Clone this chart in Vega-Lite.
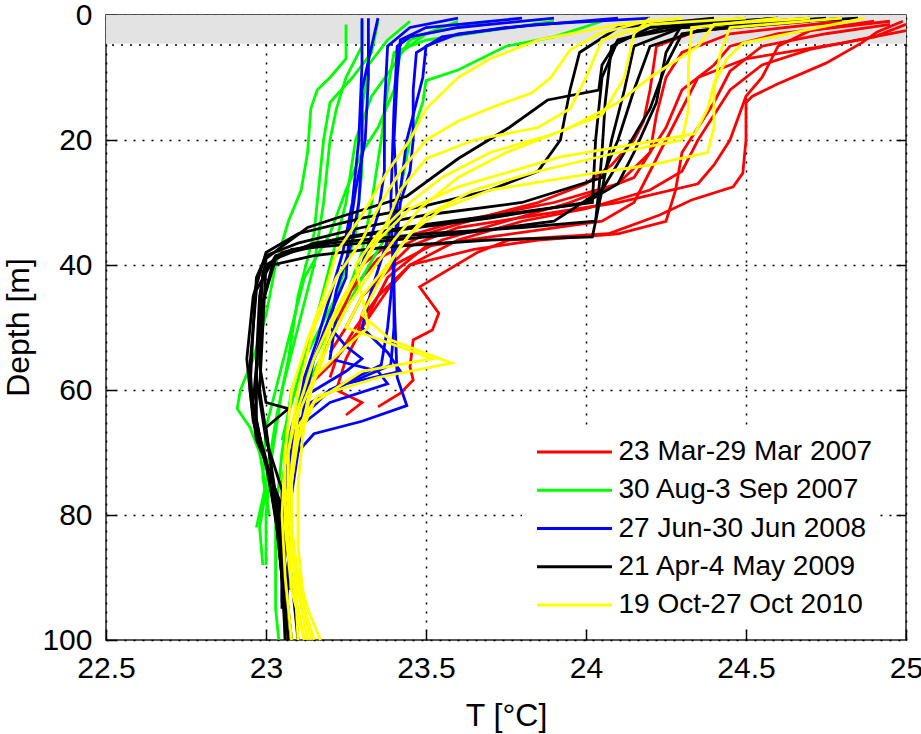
{
  "$schema": "https://vega.github.io/schema/vega-lite/v6.json",
  "width": 800,
  "height": 625,
  "autosize": {"type": "none"},
  "padding": {"left": 106, "top": 15, "right": 15, "bottom": 94},
  "background": "white",
  "config": {
    "font": "Liberation Sans",
    "view": {"stroke": "#222222", "strokeWidth": 1.5}
  },
  "datasets": {
    "periods": [
      {"c": "R", "period": "23 Mar-29 Mar 2007"},
      {"c": "G", "period": "30 Aug-3 Sep 2007"},
      {"c": "B", "period": "27 Jun-30 Jun 2008"},
      {"c": "K", "period": "21 Apr-4 May 2009"},
      {"c": "Y", "period": "19 Oct-27 Oct 2010"}
    ],
    "profiles": [
      {"p":"R1","c":"R","T":24.99,"d":1},{"p":"R1","c":"R","T":24.91,"d":2.7},{"p":"R1","c":"R","T":24.86,"d":4.5},{"p":"R1","c":"R","T":24.75,"d":7.7},{"p":"R1","c":"R","T":24.6,"d":11},{"p":"R1","c":"R","T":24.52,"d":13},{"p":"R1","c":"R","T":24.5,"d":14},{"p":"R1","c":"R","T":24.5,"d":20},{"p":"R1","c":"R","T":24.49,"d":25.3},{"p":"R1","c":"R","T":24.46,"d":27.5},{"p":"R1","c":"R","T":24.33,"d":29.6},{"p":"R1","c":"R","T":24.23,"d":32},{"p":"R1","c":"R","T":24.07,"d":35},{"p":"R1","c":"R","T":23.76,"d":36},{"p":"R1","c":"R","T":23.66,"d":38},{"p":"R1","c":"R","T":23.48,"d":43.5},{"p":"R1","c":"R","T":23.54,"d":47.7},{"p":"R1","c":"R","T":23.52,"d":50.4},{"p":"R1","c":"R","T":23.46,"d":52},{"p":"R1","c":"R","T":23.45,"d":56.3},{"p":"R1","c":"R","T":23.46,"d":58.4},{"p":"R1","c":"R","T":23.42,"d":60.5},{"p":"R1","c":"R","T":23.35,"d":62.7},
      {"p":"R2","c":"R","T":25.0,"d":1.5},{"p":"R2","c":"R","T":24.9,"d":3.5},{"p":"R2","c":"R","T":24.7,"d":5.5},{"p":"R2","c":"R","T":24.55,"d":8},{"p":"R2","c":"R","T":24.45,"d":12},{"p":"R2","c":"R","T":24.4,"d":16},{"p":"R2","c":"R","T":24.35,"d":20},{"p":"R2","c":"R","T":24.3,"d":25},{"p":"R2","c":"R","T":24.2,"d":28},{"p":"R2","c":"R","T":24.0,"d":31},{"p":"R2","c":"R","T":23.8,"d":33},{"p":"R2","c":"R","T":23.6,"d":36},{"p":"R2","c":"R","T":23.45,"d":40},{"p":"R2","c":"R","T":23.35,"d":45},{"p":"R2","c":"R","T":23.28,"d":50},{"p":"R2","c":"R","T":23.22,"d":55},{"p":"R2","c":"R","T":23.2,"d":58},
      {"p":"R3","c":"R","T":24.95,"d":1},{"p":"R3","c":"R","T":24.6,"d":3},{"p":"R3","c":"R","T":24.45,"d":5},{"p":"R3","c":"R","T":24.4,"d":8},{"p":"R3","c":"R","T":24.3,"d":12},{"p":"R3","c":"R","T":24.25,"d":18},{"p":"R3","c":"R","T":24.2,"d":22},{"p":"R3","c":"R","T":24.15,"d":26},{"p":"R3","c":"R","T":24.05,"d":28},{"p":"R3","c":"R","T":23.95,"d":30},{"p":"R3","c":"R","T":23.75,"d":33},{"p":"R3","c":"R","T":23.55,"d":36},{"p":"R3","c":"R","T":23.4,"d":40},{"p":"R3","c":"R","T":23.3,"d":45},{"p":"R3","c":"R","T":23.25,"d":50},{"p":"R3","c":"R","T":23.2,"d":54},
      {"p":"R4","c":"R","T":24.9,"d":1},{"p":"R4","c":"R","T":24.7,"d":2.5},{"p":"R4","c":"R","T":24.6,"d":5},{"p":"R4","c":"R","T":24.55,"d":10},{"p":"R4","c":"R","T":24.5,"d":13},{"p":"R4","c":"R","T":24.45,"d":20},{"p":"R4","c":"R","T":24.4,"d":24},{"p":"R4","c":"R","T":24.35,"d":27},{"p":"R4","c":"R","T":24.1,"d":30},{"p":"R4","c":"R","T":23.85,"d":32},{"p":"R4","c":"R","T":23.6,"d":34},{"p":"R4","c":"R","T":23.45,"d":37},{"p":"R4","c":"R","T":23.35,"d":42},{"p":"R4","c":"R","T":23.3,"d":48},{"p":"R4","c":"R","T":23.28,"d":52},
      {"p":"R5","c":"R","T":25.0,"d":2.5},{"p":"R5","c":"R","T":24.8,"d":4.5},{"p":"R5","c":"R","T":24.5,"d":7},{"p":"R5","c":"R","T":24.35,"d":10},{"p":"R5","c":"R","T":24.3,"d":15},{"p":"R5","c":"R","T":24.25,"d":20},{"p":"R5","c":"R","T":24.2,"d":25},{"p":"R5","c":"R","T":24.15,"d":30},{"p":"R5","c":"R","T":24.05,"d":33},{"p":"R5","c":"R","T":23.7,"d":35.5},{"p":"R5","c":"R","T":23.5,"d":37},{"p":"R5","c":"R","T":23.38,"d":42},{"p":"R5","c":"R","T":23.32,"d":48},{"p":"R5","c":"R","T":23.25,"d":55},{"p":"R5","c":"R","T":23.22,"d":60},{"p":"R5","c":"R","T":23.3,"d":62},{"p":"R5","c":"R","T":23.25,"d":64},
      {"p":"R6","c":"R","T":24.8,"d":1},{"p":"R6","c":"R","T":24.45,"d":3},{"p":"R6","c":"R","T":24.3,"d":6},{"p":"R6","c":"R","T":24.25,"d":10},{"p":"R6","c":"R","T":24.22,"d":16},{"p":"R6","c":"R","T":24.2,"d":22},{"p":"R6","c":"R","T":24.1,"d":27},{"p":"R6","c":"R","T":23.9,"d":30},{"p":"R6","c":"R","T":23.6,"d":33},{"p":"R6","c":"R","T":23.4,"d":36},{"p":"R6","c":"R","T":23.3,"d":40},{"p":"R6","c":"R","T":23.25,"d":46},{"p":"R6","c":"R","T":23.22,"d":50},
      {"p":"R7","c":"R","T":24.95,"d":1.5},{"p":"R7","c":"R","T":24.75,"d":3},{"p":"R7","c":"R","T":24.55,"d":5},{"p":"R7","c":"R","T":24.45,"d":9},{"p":"R7","c":"R","T":24.4,"d":14},{"p":"R7","c":"R","T":24.35,"d":18},{"p":"R7","c":"R","T":24.3,"d":22},{"p":"R7","c":"R","T":24.28,"d":28},{"p":"R7","c":"R","T":24.25,"d":33},{"p":"R7","c":"R","T":24.1,"d":35},{"p":"R7","c":"R","T":23.85,"d":36},{"p":"R7","c":"R","T":23.65,"d":37.5},{"p":"R7","c":"R","T":23.45,"d":40},{"p":"R7","c":"R","T":23.38,"d":44},{"p":"R7","c":"R","T":23.3,"d":50},{"p":"R7","c":"R","T":23.2,"d":56},{"p":"R7","c":"R","T":23.12,"d":60},
      {"p":"R8","c":"R","T":24.7,"d":1},{"p":"R8","c":"R","T":24.35,"d":2.5},{"p":"R8","c":"R","T":24.22,"d":5},{"p":"R8","c":"R","T":24.2,"d":12},{"p":"R8","c":"R","T":24.18,"d":17},{"p":"R8","c":"R","T":24.15,"d":20},{"p":"R8","c":"R","T":24.08,"d":24},{"p":"R8","c":"R","T":24.0,"d":27},{"p":"R8","c":"R","T":23.85,"d":30},{"p":"R8","c":"R","T":23.7,"d":32},{"p":"R8","c":"R","T":23.5,"d":35},{"p":"R8","c":"R","T":23.35,"d":39},{"p":"R8","c":"R","T":23.25,"d":45},{"p":"R8","c":"R","T":23.2,"d":52},{"p":"R8","c":"R","T":23.15,"d":58},

      {"p":"G1","c":"G","T":23.25,"d":1.5},{"p":"G1","c":"G","T":23.25,"d":7},{"p":"G1","c":"G","T":23.2,"d":10},{"p":"G1","c":"G","T":23.16,"d":12},{"p":"G1","c":"G","T":23.14,"d":15},{"p":"G1","c":"G","T":23.13,"d":22},{"p":"G1","c":"G","T":23.11,"d":28},{"p":"G1","c":"G","T":23.07,"d":33},{"p":"G1","c":"G","T":23.03,"d":40},{"p":"G1","c":"G","T":23.0,"d":48},{"p":"G1","c":"G","T":22.96,"d":55},{"p":"G1","c":"G","T":22.92,"d":60},{"p":"G1","c":"G","T":22.91,"d":63},{"p":"G1","c":"G","T":22.95,"d":66},{"p":"G1","c":"G","T":22.98,"d":70},{"p":"G1","c":"G","T":23.0,"d":76},{"p":"G1","c":"G","T":22.98,"d":82},{"p":"G1","c":"G","T":22.99,"d":88},
      {"p":"G2","c":"G","T":23.3,"d":1},{"p":"G2","c":"G","T":23.3,"d":5},{"p":"G2","c":"G","T":23.25,"d":10},{"p":"G2","c":"G","T":23.22,"d":15},{"p":"G2","c":"G","T":23.2,"d":20},{"p":"G2","c":"G","T":23.18,"d":30},{"p":"G2","c":"G","T":23.15,"d":40},{"p":"G2","c":"G","T":23.1,"d":50},{"p":"G2","c":"G","T":23.05,"d":60},{"p":"G2","c":"G","T":23.02,"d":70},{"p":"G2","c":"G","T":23.0,"d":80},{"p":"G2","c":"G","T":23.0,"d":88},
      {"p":"G3","c":"G","T":23.6,"d":1},{"p":"G3","c":"G","T":23.45,"d":4},{"p":"G3","c":"G","T":23.4,"d":8},{"p":"G3","c":"G","T":23.33,"d":13},{"p":"G3","c":"G","T":23.28,"d":20},{"p":"G3","c":"G","T":23.25,"d":30},{"p":"G3","c":"G","T":23.2,"d":40},{"p":"G3","c":"G","T":23.15,"d":50},{"p":"G3","c":"G","T":23.08,"d":60},{"p":"G3","c":"G","T":23.05,"d":70},{"p":"G3","c":"G","T":23.03,"d":80},{"p":"G3","c":"G","T":23.03,"d":95},{"p":"G3","c":"G","T":23.04,"d":100},
      {"p":"G4","c":"G","T":24.05,"d":1},{"p":"G4","c":"G","T":23.9,"d":3.5},{"p":"G4","c":"G","T":23.75,"d":5},{"p":"G4","c":"G","T":23.6,"d":8.8},{"p":"G4","c":"G","T":23.5,"d":10.5},{"p":"G4","c":"G","T":23.49,"d":14},{"p":"G4","c":"G","T":23.45,"d":20},{"p":"G4","c":"G","T":23.42,"d":28},{"p":"G4","c":"G","T":23.38,"d":35},{"p":"G4","c":"G","T":23.3,"d":42},{"p":"G4","c":"G","T":23.2,"d":52},{"p":"G4","c":"G","T":23.12,"d":60},{"p":"G4","c":"G","T":23.07,"d":68},{"p":"G4","c":"G","T":23.05,"d":75},
      {"p":"G5","c":"G","T":23.9,"d":1},{"p":"G5","c":"G","T":23.7,"d":2.5},{"p":"G5","c":"G","T":23.5,"d":4},{"p":"G5","c":"G","T":23.4,"d":6},{"p":"G5","c":"G","T":23.38,"d":12},{"p":"G5","c":"G","T":23.36,"d":20},{"p":"G5","c":"G","T":23.33,"d":30},{"p":"G5","c":"G","T":23.3,"d":38},{"p":"G5","c":"G","T":23.25,"d":45},{"p":"G5","c":"G","T":23.15,"d":55},{"p":"G5","c":"G","T":23.1,"d":62},{"p":"G5","c":"G","T":23.06,"d":70},
      {"p":"G6","c":"G","T":23.35,"d":1},{"p":"G6","c":"G","T":23.33,"d":6},{"p":"G6","c":"G","T":23.27,"d":10},{"p":"G6","c":"G","T":23.2,"d":14},{"p":"G6","c":"G","T":23.18,"d":20},{"p":"G6","c":"G","T":23.17,"d":25},{"p":"G6","c":"G","T":23.15,"d":35},{"p":"G6","c":"G","T":23.1,"d":45},{"p":"G6","c":"G","T":23.07,"d":55},{"p":"G6","c":"G","T":23.03,"d":65},{"p":"G6","c":"G","T":23.0,"d":75},{"p":"G6","c":"G","T":22.97,"d":82},
      {"p":"G7","c":"G","T":23.45,"d":1},{"p":"G7","c":"G","T":23.38,"d":4},{"p":"G7","c":"G","T":23.32,"d":8},{"p":"G7","c":"G","T":23.3,"d":15},{"p":"G7","c":"G","T":23.3,"d":25},{"p":"G7","c":"G","T":23.28,"d":35},{"p":"G7","c":"G","T":23.22,"d":45},{"p":"G7","c":"G","T":23.12,"d":55},{"p":"G7","c":"G","T":23.08,"d":62},{"p":"G7","c":"G","T":23.05,"d":68},
      {"p":"G8","c":"G","T":23.7,"d":1},{"p":"G8","c":"G","T":23.5,"d":3},{"p":"G8","c":"G","T":23.42,"d":6},{"p":"G8","c":"G","T":23.4,"d":12},{"p":"G8","c":"G","T":23.35,"d":18},{"p":"G8","c":"G","T":23.3,"d":22},{"p":"G8","c":"G","T":23.25,"d":28},{"p":"G8","c":"G","T":23.2,"d":35},{"p":"G8","c":"G","T":23.12,"d":42},{"p":"G8","c":"G","T":23.08,"d":50},{"p":"G8","c":"G","T":23.04,"d":58},{"p":"G8","c":"G","T":23.0,"d":66},{"p":"G8","c":"G","T":22.99,"d":74},{"p":"G8","c":"G","T":23.01,"d":80},

      {"p":"B1","c":"B","T":23.9,"d":0.5},{"p":"B1","c":"B","T":23.6,"d":2},{"p":"B1","c":"B","T":23.45,"d":3.5},{"p":"B1","c":"B","T":23.41,"d":5},{"p":"B1","c":"B","T":23.4,"d":15},{"p":"B1","c":"B","T":23.39,"d":30},{"p":"B1","c":"B","T":23.4,"d":45},{"p":"B1","c":"B","T":23.41,"d":58},{"p":"B1","c":"B","T":23.44,"d":62.5},{"p":"B1","c":"B","T":23.3,"d":65},{"p":"B1","c":"B","T":23.15,"d":67},{"p":"B1","c":"B","T":23.08,"d":71},{"p":"B1","c":"B","T":23.08,"d":77},{"p":"B1","c":"B","T":23.06,"d":85},{"p":"B1","c":"B","T":23.05,"d":90},
      {"p":"B2","c":"B","T":23.32,"d":0.5},{"p":"B2","c":"B","T":23.32,"d":10},{"p":"B2","c":"B","T":23.31,"d":20},{"p":"B2","c":"B","T":23.28,"d":28},{"p":"B2","c":"B","T":23.26,"d":35},{"p":"B2","c":"B","T":23.25,"d":42},{"p":"B2","c":"B","T":23.2,"d":48},{"p":"B2","c":"B","T":23.15,"d":55},{"p":"B2","c":"B","T":23.12,"d":62},{"p":"B2","c":"B","T":23.1,"d":70},{"p":"B2","c":"B","T":23.07,"d":80},{"p":"B2","c":"B","T":23.07,"d":90},{"p":"B2","c":"B","T":23.06,"d":98},
      {"p":"B3","c":"B","T":24.1,"d":0.5},{"p":"B3","c":"B","T":23.75,"d":2},{"p":"B3","c":"B","T":23.55,"d":3.5},{"p":"B3","c":"B","T":23.47,"d":6},{"p":"B3","c":"B","T":23.46,"d":12},{"p":"B3","c":"B","T":23.46,"d":20},{"p":"B3","c":"B","T":23.45,"d":25},{"p":"B3","c":"B","T":23.42,"d":30},{"p":"B3","c":"B","T":23.4,"d":40},{"p":"B3","c":"B","T":23.38,"d":50},{"p":"B3","c":"B","T":23.36,"d":56},{"p":"B3","c":"B","T":23.2,"d":60},{"p":"B3","c":"B","T":23.1,"d":65},{"p":"B3","c":"B","T":23.08,"d":72},
      {"p":"B4","c":"B","T":23.6,"d":0.5},{"p":"B4","c":"B","T":23.45,"d":2},{"p":"B4","c":"B","T":23.38,"d":5},{"p":"B4","c":"B","T":23.37,"d":15},{"p":"B4","c":"B","T":23.37,"d":25},{"p":"B4","c":"B","T":23.35,"d":32},{"p":"B4","c":"B","T":23.3,"d":40},{"p":"B4","c":"B","T":23.22,"d":48},{"p":"B4","c":"B","T":23.2,"d":55},{"p":"B4","c":"B","T":23.35,"d":57},{"p":"B4","c":"B","T":23.38,"d":59},{"p":"B4","c":"B","T":23.2,"d":62},{"p":"B4","c":"B","T":23.1,"d":66},{"p":"B4","c":"B","T":23.08,"d":70},{"p":"B4","c":"B","T":23.07,"d":80},
      {"p":"B5","c":"B","T":24.2,"d":0.5},{"p":"B5","c":"B","T":23.85,"d":1.5},{"p":"B5","c":"B","T":23.6,"d":3},{"p":"B5","c":"B","T":23.5,"d":5},{"p":"B5","c":"B","T":23.49,"d":10},{"p":"B5","c":"B","T":23.47,"d":14},{"p":"B5","c":"B","T":23.44,"d":20},{"p":"B5","c":"B","T":23.42,"d":28},{"p":"B5","c":"B","T":23.38,"d":36},{"p":"B5","c":"B","T":23.33,"d":44},{"p":"B5","c":"B","T":23.3,"d":50},{"p":"B5","c":"B","T":23.38,"d":54},{"p":"B5","c":"B","T":23.42,"d":57},{"p":"B5","c":"B","T":23.25,"d":59},{"p":"B5","c":"B","T":23.14,"d":62},{"p":"B5","c":"B","T":23.1,"d":68},{"p":"B5","c":"B","T":23.08,"d":75},
      {"p":"B6","c":"B","T":23.3,"d":0.5},{"p":"B6","c":"B","T":23.3,"d":8},{"p":"B6","c":"B","T":23.29,"d":20},{"p":"B6","c":"B","T":23.27,"d":30},{"p":"B6","c":"B","T":23.24,"d":38},{"p":"B6","c":"B","T":23.2,"d":45},{"p":"B6","c":"B","T":23.16,"d":52},{"p":"B6","c":"B","T":23.12,"d":58},{"p":"B6","c":"B","T":23.1,"d":64},{"p":"B6","c":"B","T":23.07,"d":72},{"p":"B6","c":"B","T":23.05,"d":88},{"p":"B6","c":"B","T":23.05,"d":94},
      {"p":"B7","c":"B","T":23.8,"d":0.5},{"p":"B7","c":"B","T":23.5,"d":2},{"p":"B7","c":"B","T":23.42,"d":4},{"p":"B7","c":"B","T":23.41,"d":10},{"p":"B7","c":"B","T":23.4,"d":20},{"p":"B7","c":"B","T":23.41,"d":30},{"p":"B7","c":"B","T":23.4,"d":40},{"p":"B7","c":"B","T":23.4,"d":50},{"p":"B7","c":"B","T":23.39,"d":56},{"p":"B7","c":"B","T":23.3,"d":58},{"p":"B7","c":"B","T":23.2,"d":60},{"p":"B7","c":"B","T":23.12,"d":63},{"p":"B7","c":"B","T":23.1,"d":68},{"p":"B7","c":"B","T":23.08,"d":74},
      {"p":"B8","c":"B","T":23.35,"d":0.5},{"p":"B8","c":"B","T":23.33,"d":5},{"p":"B8","c":"B","T":23.3,"d":12},{"p":"B8","c":"B","T":23.3,"d":22},{"p":"B8","c":"B","T":23.29,"d":30},{"p":"B8","c":"B","T":23.27,"d":36},{"p":"B8","c":"B","T":23.22,"d":44},{"p":"B8","c":"B","T":23.2,"d":50},{"p":"B8","c":"B","T":23.25,"d":53},{"p":"B8","c":"B","T":23.3,"d":55},{"p":"B8","c":"B","T":23.25,"d":57},{"p":"B8","c":"B","T":23.12,"d":61},{"p":"B8","c":"B","T":23.08,"d":66},{"p":"B8","c":"B","T":23.06,"d":75},{"p":"B8","c":"B","T":23.05,"d":85},

      {"p":"K1","c":"K","T":24.75,"d":0.5},{"p":"K1","c":"K","T":24.3,"d":2},{"p":"K1","c":"K","T":24.1,"d":4},{"p":"K1","c":"K","T":24.05,"d":8},{"p":"K1","c":"K","T":24.04,"d":12},{"p":"K1","c":"K","T":23.88,"d":13.6},{"p":"K1","c":"K","T":23.76,"d":18},{"p":"K1","c":"K","T":23.6,"d":23},{"p":"K1","c":"K","T":23.44,"d":29},{"p":"K1","c":"K","T":23.25,"d":32},{"p":"K1","c":"K","T":23.13,"d":34},{"p":"K1","c":"K","T":23.05,"d":37},{"p":"K1","c":"K","T":23.0,"d":39},{"p":"K1","c":"K","T":22.98,"d":45},{"p":"K1","c":"K","T":22.97,"d":55},{"p":"K1","c":"K","T":22.97,"d":65},{"p":"K1","c":"K","T":23.0,"d":72},{"p":"K1","c":"K","T":23.03,"d":80},{"p":"K1","c":"K","T":23.05,"d":90},{"p":"K1","c":"K","T":23.06,"d":100},
      {"p":"K2","c":"K","T":24.8,"d":0.5},{"p":"K2","c":"K","T":24.35,"d":2.5},{"p":"K2","c":"K","T":24.2,"d":5},{"p":"K2","c":"K","T":24.15,"d":12},{"p":"K2","c":"K","T":24.1,"d":20},{"p":"K2","c":"K","T":24.05,"d":26},{"p":"K2","c":"K","T":23.8,"d":30},{"p":"K2","c":"K","T":23.5,"d":32},{"p":"K2","c":"K","T":23.3,"d":34},{"p":"K2","c":"K","T":23.1,"d":36.5},{"p":"K2","c":"K","T":23.0,"d":38.5},{"p":"K2","c":"K","T":22.97,"d":42},{"p":"K2","c":"K","T":22.96,"d":50},{"p":"K2","c":"K","T":22.95,"d":60},{"p":"K2","c":"K","T":22.97,"d":68},{"p":"K2","c":"K","T":23.02,"d":74},{"p":"K2","c":"K","T":23.04,"d":85},{"p":"K2","c":"K","T":23.07,"d":100},
      {"p":"K3","c":"K","T":24.6,"d":0.5},{"p":"K3","c":"K","T":24.25,"d":2},{"p":"K3","c":"K","T":24.1,"d":4},{"p":"K3","c":"K","T":24.05,"d":10},{"p":"K3","c":"K","T":24.03,"d":20},{"p":"K3","c":"K","T":24.02,"d":30},{"p":"K3","c":"K","T":23.8,"d":31.5},{"p":"K3","c":"K","T":23.5,"d":33.5},{"p":"K3","c":"K","T":23.25,"d":35.5},{"p":"K3","c":"K","T":23.05,"d":38},{"p":"K3","c":"K","T":22.99,"d":41},{"p":"K3","c":"K","T":22.98,"d":50},{"p":"K3","c":"K","T":22.96,"d":62},{"p":"K3","c":"K","T":22.99,"d":70},{"p":"K3","c":"K","T":23.04,"d":78},{"p":"K3","c":"K","T":23.08,"d":90},{"p":"K3","c":"K","T":23.1,"d":100},
      {"p":"K4","c":"K","T":24.85,"d":0.5},{"p":"K4","c":"K","T":24.5,"d":1.5},{"p":"K4","c":"K","T":24.3,"d":3},{"p":"K4","c":"K","T":24.25,"d":8},{"p":"K4","c":"K","T":24.2,"d":15},{"p":"K4","c":"K","T":24.12,"d":22},{"p":"K4","c":"K","T":24.05,"d":28},{"p":"K4","c":"K","T":24.02,"d":35.5},{"p":"K4","c":"K","T":23.7,"d":36},{"p":"K4","c":"K","T":23.4,"d":37},{"p":"K4","c":"K","T":23.15,"d":38.5},{"p":"K4","c":"K","T":23.02,"d":40},{"p":"K4","c":"K","T":22.98,"d":48},{"p":"K4","c":"K","T":22.97,"d":58},{"p":"K4","c":"K","T":23.0,"d":68},{"p":"K4","c":"K","T":23.05,"d":76},{"p":"K4","c":"K","T":23.05,"d":95},
      {"p":"K5","c":"K","T":24.4,"d":0.5},{"p":"K5","c":"K","T":24.1,"d":2},{"p":"K5","c":"K","T":23.98,"d":6},{"p":"K5","c":"K","T":23.95,"d":12},{"p":"K5","c":"K","T":23.92,"d":20},{"p":"K5","c":"K","T":23.85,"d":25},{"p":"K5","c":"K","T":23.7,"d":28},{"p":"K5","c":"K","T":23.5,"d":30.5},{"p":"K5","c":"K","T":23.3,"d":32.5},{"p":"K5","c":"K","T":23.1,"d":35},{"p":"K5","c":"K","T":23.0,"d":38},{"p":"K5","c":"K","T":22.96,"d":45},{"p":"K5","c":"K","T":22.94,"d":55},{"p":"K5","c":"K","T":22.96,"d":65},{"p":"K5","c":"K","T":23.0,"d":72},{"p":"K5","c":"K","T":23.06,"d":80},{"p":"K5","c":"K","T":23.08,"d":92},
      {"p":"K6","c":"K","T":24.7,"d":0.5},{"p":"K6","c":"K","T":24.3,"d":2},{"p":"K6","c":"K","T":24.15,"d":5},{"p":"K6","c":"K","T":24.12,"d":12},{"p":"K6","c":"K","T":24.08,"d":20},{"p":"K6","c":"K","T":24.05,"d":28},{"p":"K6","c":"K","T":23.9,"d":33},{"p":"K6","c":"K","T":23.6,"d":35},{"p":"K6","c":"K","T":23.3,"d":36.5},{"p":"K6","c":"K","T":23.08,"d":37.5},{"p":"K6","c":"K","T":23.0,"d":40},{"p":"K6","c":"K","T":22.99,"d":50},{"p":"K6","c":"K","T":22.98,"d":60},{"p":"K6","c":"K","T":23.01,"d":70},{"p":"K6","c":"K","T":23.04,"d":80},{"p":"K6","c":"K","T":23.07,"d":92},
      {"p":"K7","c":"K","T":24.5,"d":0.5},{"p":"K7","c":"K","T":24.2,"d":2},{"p":"K7","c":"K","T":24.08,"d":5},{"p":"K7","c":"K","T":24.06,"d":14},{"p":"K7","c":"K","T":24.05,"d":22},{"p":"K7","c":"K","T":24.04,"d":28},{"p":"K7","c":"K","T":24.03,"d":33},{"p":"K7","c":"K","T":23.8,"d":34},{"p":"K7","c":"K","T":23.5,"d":35},{"p":"K7","c":"K","T":23.2,"d":36.5},{"p":"K7","c":"K","T":23.03,"d":38.5},{"p":"K7","c":"K","T":22.97,"d":44},{"p":"K7","c":"K","T":22.95,"d":56},{"p":"K7","c":"K","T":22.96,"d":64},{"p":"K7","c":"K","T":23.0,"d":71},{"p":"K7","c":"K","T":23.04,"d":84},{"p":"K7","c":"K","T":23.06,"d":96},{"p":"K7","c":"K","T":23.06,"d":100},
      {"p":"K8","c":"K","T":24.6,"d":0.5},{"p":"K8","c":"K","T":24.3,"d":1.5},{"p":"K8","c":"K","T":24.25,"d":6},{"p":"K8","c":"K","T":24.22,"d":14},{"p":"K8","c":"K","T":24.15,"d":22},{"p":"K8","c":"K","T":24.1,"d":27},{"p":"K8","c":"K","T":24.0,"d":30},{"p":"K8","c":"K","T":23.7,"d":32.5},{"p":"K8","c":"K","T":23.4,"d":34.5},{"p":"K8","c":"K","T":23.15,"d":36.5},{"p":"K8","c":"K","T":23.03,"d":39},{"p":"K8","c":"K","T":22.99,"d":46},{"p":"K8","c":"K","T":22.98,"d":56},{"p":"K8","c":"K","T":23.0,"d":62},{"p":"K8","c":"K","T":23.07,"d":63},{"p":"K8","c":"K","T":23.0,"d":66},{"p":"K8","c":"K","T":23.02,"d":74},{"p":"K8","c":"K","T":23.05,"d":86},{"p":"K8","c":"K","T":23.08,"d":100},

      {"p":"Y1","c":"Y","T":24.87,"d":0.5},{"p":"Y1","c":"Y","T":24.49,"d":4.5},{"p":"Y1","c":"Y","T":24.44,"d":7},{"p":"Y1","c":"Y","T":24.4,"d":11},{"p":"Y1","c":"Y","T":24.38,"d":15},{"p":"Y1","c":"Y","T":24.34,"d":19},{"p":"Y1","c":"Y","T":24.23,"d":20},{"p":"Y1","c":"Y","T":23.92,"d":22.7},{"p":"Y1","c":"Y","T":23.6,"d":27.5},{"p":"Y1","c":"Y","T":23.45,"d":31},{"p":"Y1","c":"Y","T":23.35,"d":36},{"p":"Y1","c":"Y","T":23.28,"d":42},{"p":"Y1","c":"Y","T":23.2,"d":50},{"p":"Y1","c":"Y","T":23.15,"d":58},{"p":"Y1","c":"Y","T":23.12,"d":65},{"p":"Y1","c":"Y","T":23.1,"d":75},{"p":"Y1","c":"Y","T":23.1,"d":85},{"p":"Y1","c":"Y","T":23.12,"d":95},{"p":"Y1","c":"Y","T":23.15,"d":100},
      {"p":"Y2","c":"Y","T":24.2,"d":0.8},{"p":"Y2","c":"Y","T":24.04,"d":3},{"p":"Y2","c":"Y","T":23.95,"d":5.6},{"p":"Y2","c":"Y","T":23.89,"d":10},{"p":"Y2","c":"Y","T":23.83,"d":12.5},{"p":"Y2","c":"Y","T":23.71,"d":14.7},{"p":"Y2","c":"Y","T":23.6,"d":17},{"p":"Y2","c":"Y","T":23.5,"d":20},{"p":"Y2","c":"Y","T":23.42,"d":25},{"p":"Y2","c":"Y","T":23.36,"d":30},{"p":"Y2","c":"Y","T":23.3,"d":36},{"p":"Y2","c":"Y","T":23.22,"d":42},{"p":"Y2","c":"Y","T":23.15,"d":50},{"p":"Y2","c":"Y","T":23.1,"d":60},{"p":"Y2","c":"Y","T":23.07,"d":70},{"p":"Y2","c":"Y","T":23.07,"d":80},{"p":"Y2","c":"Y","T":23.09,"d":90},{"p":"Y2","c":"Y","T":23.1,"d":100},
      {"p":"Y3","c":"Y","T":24.6,"d":0.5},{"p":"Y3","c":"Y","T":24.33,"d":2},{"p":"Y3","c":"Y","T":24.32,"d":8},{"p":"Y3","c":"Y","T":24.32,"d":15},{"p":"Y3","c":"Y","T":24.3,"d":20},{"p":"Y3","c":"Y","T":24.1,"d":22},{"p":"Y3","c":"Y","T":23.85,"d":25},{"p":"Y3","c":"Y","T":23.65,"d":28},{"p":"Y3","c":"Y","T":23.5,"d":32},{"p":"Y3","c":"Y","T":23.42,"d":37},{"p":"Y3","c":"Y","T":23.35,"d":43},{"p":"Y3","c":"Y","T":23.3,"d":48},{"p":"Y3","c":"Y","T":23.39,"d":52},{"p":"Y3","c":"Y","T":23.58,"d":55.7},{"p":"Y3","c":"Y","T":23.35,"d":58},{"p":"Y3","c":"Y","T":23.16,"d":61},{"p":"Y3","c":"Y","T":23.1,"d":66},{"p":"Y3","c":"Y","T":23.08,"d":75},{"p":"Y3","c":"Y","T":23.08,"d":85},{"p":"Y3","c":"Y","T":23.13,"d":95},{"p":"Y3","c":"Y","T":23.17,"d":100},
      {"p":"Y4","c":"Y","T":24.5,"d":0.5},{"p":"Y4","c":"Y","T":24.2,"d":1.5},{"p":"Y4","c":"Y","T":24.05,"d":4},{"p":"Y4","c":"Y","T":24.0,"d":10},{"p":"Y4","c":"Y","T":23.95,"d":15},{"p":"Y4","c":"Y","T":23.85,"d":18},{"p":"Y4","c":"Y","T":23.65,"d":20},{"p":"Y4","c":"Y","T":23.5,"d":23},{"p":"Y4","c":"Y","T":23.42,"d":28},{"p":"Y4","c":"Y","T":23.38,"d":33},{"p":"Y4","c":"Y","T":23.3,"d":40},{"p":"Y4","c":"Y","T":23.22,"d":47},{"p":"Y4","c":"Y","T":23.15,"d":55},{"p":"Y4","c":"Y","T":23.1,"d":63},{"p":"Y4","c":"Y","T":23.06,"d":72},{"p":"Y4","c":"Y","T":23.06,"d":82},{"p":"Y4","c":"Y","T":23.08,"d":92},{"p":"Y4","c":"Y","T":23.12,"d":100},
      {"p":"Y5","c":"Y","T":24.8,"d":0.5},{"p":"Y5","c":"Y","T":24.45,"d":2},{"p":"Y5","c":"Y","T":24.42,"d":6},{"p":"Y5","c":"Y","T":24.4,"d":12},{"p":"Y5","c":"Y","T":24.4,"d":18},{"p":"Y5","c":"Y","T":24.38,"d":22},{"p":"Y5","c":"Y","T":24.2,"d":24},{"p":"Y5","c":"Y","T":24.0,"d":25.5},{"p":"Y5","c":"Y","T":23.7,"d":28},{"p":"Y5","c":"Y","T":23.55,"d":31},{"p":"Y5","c":"Y","T":23.45,"d":35},{"p":"Y5","c":"Y","T":23.38,"d":40},{"p":"Y5","c":"Y","T":23.3,"d":45},{"p":"Y5","c":"Y","T":23.25,"d":50},{"p":"Y5","c":"Y","T":23.52,"d":55},{"p":"Y5","c":"Y","T":23.3,"d":57},{"p":"Y5","c":"Y","T":23.15,"d":62},{"p":"Y5","c":"Y","T":23.1,"d":68},{"p":"Y5","c":"Y","T":23.06,"d":78},{"p":"Y5","c":"Y","T":23.08,"d":90},{"p":"Y5","c":"Y","T":23.12,"d":100},
      {"p":"Y6","c":"Y","T":24.3,"d":0.5},{"p":"Y6","c":"Y","T":24.1,"d":1.5},{"p":"Y6","c":"Y","T":23.85,"d":4},{"p":"Y6","c":"Y","T":23.7,"d":7},{"p":"Y6","c":"Y","T":23.6,"d":10},{"p":"Y6","c":"Y","T":23.5,"d":15},{"p":"Y6","c":"Y","T":23.45,"d":20},{"p":"Y6","c":"Y","T":23.38,"d":25},{"p":"Y6","c":"Y","T":23.3,"d":32},{"p":"Y6","c":"Y","T":23.22,"d":38},{"p":"Y6","c":"Y","T":23.18,"d":45},{"p":"Y6","c":"Y","T":23.13,"d":52},{"p":"Y6","c":"Y","T":23.08,"d":60},{"p":"Y6","c":"Y","T":23.06,"d":70},{"p":"Y6","c":"Y","T":23.05,"d":80},{"p":"Y6","c":"Y","T":23.06,"d":90},{"p":"Y6","c":"Y","T":23.08,"d":100},
      {"p":"Y7","c":"Y","T":24.7,"d":0.5},{"p":"Y7","c":"Y","T":24.4,"d":1.5},{"p":"Y7","c":"Y","T":24.35,"d":5},{"p":"Y7","c":"Y","T":24.2,"d":10},{"p":"Y7","c":"Y","T":24.1,"d":14},{"p":"Y7","c":"Y","T":23.95,"d":18},{"p":"Y7","c":"Y","T":23.75,"d":22},{"p":"Y7","c":"Y","T":23.6,"d":26},{"p":"Y7","c":"Y","T":23.48,"d":31},{"p":"Y7","c":"Y","T":23.4,"d":36},{"p":"Y7","c":"Y","T":23.33,"d":41},{"p":"Y7","c":"Y","T":23.25,"d":47},{"p":"Y7","c":"Y","T":23.2,"d":52},{"p":"Y7","c":"Y","T":23.14,"d":60},{"p":"Y7","c":"Y","T":23.1,"d":68},{"p":"Y7","c":"Y","T":23.07,"d":78},{"p":"Y7","c":"Y","T":23.1,"d":90},{"p":"Y7","c":"Y","T":23.14,"d":100},
      {"p":"Y8","c":"Y","T":24.2,"d":0.5},{"p":"Y8","c":"Y","T":24.15,"d":3},{"p":"Y8","c":"Y","T":24.12,"d":10},{"p":"Y8","c":"Y","T":24.05,"d":16},{"p":"Y8","c":"Y","T":23.9,"d":19},{"p":"Y8","c":"Y","T":23.7,"d":22},{"p":"Y8","c":"Y","T":23.55,"d":26},{"p":"Y8","c":"Y","T":23.45,"d":30},{"p":"Y8","c":"Y","T":23.35,"d":35},{"p":"Y8","c":"Y","T":23.28,"d":40},{"p":"Y8","c":"Y","T":23.3,"d":45},{"p":"Y8","c":"Y","T":23.32,"d":50},{"p":"Y8","c":"Y","T":23.25,"d":53},{"p":"Y8","c":"Y","T":23.15,"d":58},{"p":"Y8","c":"Y","T":23.1,"d":64},{"p":"Y8","c":"Y","T":23.08,"d":72},{"p":"Y8","c":"Y","T":23.08,"d":82},{"p":"Y8","c":"Y","T":23.1,"d":92},{"p":"Y8","c":"Y","T":23.13,"d":100}
    ]
  },
  "layer": [
    {
      "data": {"values": [{}]},
      "mark": {"type": "rect", "color": "#e3e3e3"},
      "encoding": {
        "x": {
          "datum": 22.5, "type": "quantitative",
          "scale": {"domain": [22.5, 25], "nice": false, "zero": false},
          "axis": {
            "orient": "top", "values": [23, 23.5, 24, 24.5], "labels": false, "title": null,
            "grid": false, "domain": false, "ticks": true, "tickSize": -10,
            "tickColor": "black", "tickWidth": 1.5
          }
        },
        "x2": {"datum": 25},
        "y": {
          "datum": 0, "type": "quantitative",
          "scale": {"domain": [0, 100], "reverse": true, "nice": false, "zero": false},
          "axis": {
            "orient": "right", "values": [20, 40, 60, 80], "labels": false, "title": null,
            "grid": false, "domain": false, "ticks": true, "tickSize": -10,
            "tickColor": "black", "tickWidth": 1.5
          }
        },
        "y2": {"datum": 4.6}
      }
    },
    {
      "data": {"values": [{}]},
      "mark": {"type": "rule", "color": "black", "strokeWidth": 1.5, "strokeDash": [2, 7]},
      "encoding": {
        "y": {"datum": 4.8, "type": "quantitative", "axis": null}
      }
    },
    {
      "data": {"name": "profiles"},
      "transform": [
        {"lookup": "c", "from": {"data": {"name": "periods"}, "key": "c", "fields": ["period"]}}
      ],
      "mark": {"type": "line", "strokeWidth": 2.8},
      "encoding": {
        "x": {
          "field": "T", "type": "quantitative",
          "scale": {"domain": [22.5, 25], "nice": false, "zero": false},
          "axis": {
            "orient": "bottom", "values": [22.5, 23, 23.5, 24, 24.5, 25], "format": "~g",
            "title": "T [°C]", "titleFontSize": 32, "titleFontWeight": "normal", "titleColor": "black",
            "titleBaseline": "alphabetic", "titleY": 85, "titleX": 400, "titleAlign": "center",
            "labelFontSize": 30, "labelColor": "black", "labelPadding": 23, "labelFlush": false,
            "labelOverlap": false, "labelBound": false,
            "domain": false, "ticks": true, "tickSize": -10, "tickColor": "black", "tickWidth": 1.5,
            "grid": true, "gridColor": "black", "gridWidth": 1.5, "gridDash": [2, 7], "gridOpacity": 1
          }
        },
        "y": {
          "field": "d", "type": "quantitative",
          "scale": {"domain": [0, 100], "reverse": true, "nice": false, "zero": false},
          "axis": {
            "orient": "left", "values": [0, 20, 40, 60, 80, 100], "format": "d",
            "title": "Depth [m]", "titleFontSize": 32, "titleFontWeight": "normal", "titleColor": "black",
            "titleAngle": -90, "titleBaseline": "alphabetic", "titleAlign": "center",
            "titleX": -78, "titleY": 312,
            "labelFontSize": 30, "labelColor": "black", "labelPadding": 24, "labelFlush": false,
            "labelOverlap": false, "labelBound": false,
            "domain": false, "ticks": true, "tickSize": -10, "tickColor": "black", "tickWidth": 1.5,
            "grid": true, "gridColor": "black", "gridWidth": 1.5, "gridDash": [2, 7], "gridOpacity": 1
          }
        },
        "color": {
          "field": "period", "type": "nominal",
          "scale": {
            "domain": ["23 Mar-29 Mar 2007", "30 Aug-3 Sep 2007", "27 Jun-30 Jun 2008", "21 Apr-4 May 2009", "19 Oct-27 Oct 2010"],
            "range": ["#ff0000", "#00ff00", "#0000ff", "#000000", "#ffff00"]
          },
          "legend": {
            "orient": "none", "legendX": 416, "legendY": 415, "title": null,
            "symbolType": "stroke", "symbolSize": 5625, "symbolStrokeWidth": 3,
            "clipHeight": 30, "rowPadding": 8.25, "padding": 7,
            "fillColor": "white", "strokeColor": null,
            "labelFontSize": 28, "labelColor": "black", "labelOffset": 5, "symbolOffset": 6.5,
            "labelLimit": 400
          }
        },
        "detail": {"field": "p"},
        "order": {"field": "d"}
      }
    }
  ],
  "resolve": {"axis": {"x": "independent", "y": "independent"}}
}
